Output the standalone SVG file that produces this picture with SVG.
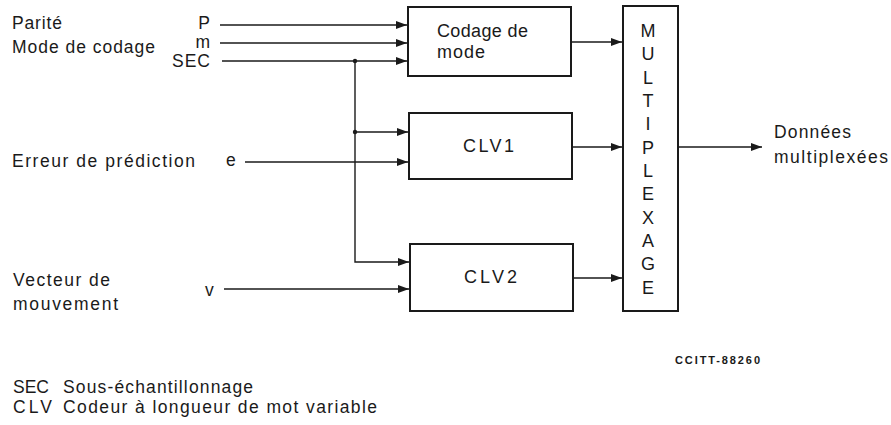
<svg xmlns="http://www.w3.org/2000/svg" width="891" height="425" viewBox="0 0 891 425">
<style>
text{font-family:"Liberation Sans",Arial,sans-serif;fill:#1a1a1a}
.lbl{font-size:17.5px}
.box{font-size:18px}
.mux{font-size:18px;text-anchor:middle}
.nd{fill:#fff;stroke:#1a1a1a;stroke-width:2}
.ln{fill:none;stroke:#1a1a1a;stroke-width:1.4}
.ref{font-size:11px;font-weight:bold}
</style>
<defs>
<marker id="ah" markerUnits="userSpaceOnUse" markerWidth="12" markerHeight="9" refX="11" refY="4" orient="auto">
<path d="M0,0 L11,4 L0,8 z" fill="#1a1a1a"/>
</marker>
</defs>
<rect width="891" height="425" fill="#fff"/>
<g id="inputs">
<text class="lbl" x="12" y="29" textLength="50">Parité</text>
<text class="lbl" x="12" y="53" textLength="143">Mode de codage</text>
<text class="lbl" x="210" y="29" text-anchor="end">P</text>
<text class="lbl" x="210" y="48" text-anchor="end">m</text>
<text class="lbl" x="210" y="67" text-anchor="end" textLength="38">SEC</text>
<text class="lbl" x="12" y="167" textLength="183">Erreur de prédiction</text>
<text class="lbl" x="226" y="166">e</text>
<text class="lbl" x="13" y="286" textLength="97">Vecteur de</text>
<text class="lbl" x="13" y="310" textLength="105">mouvement</text>
<text class="lbl" x="205" y="296">v</text>
</g>
<g id="codage">
<rect class="nd" x="408" y="7" width="163" height="69"/>
<text class="box" x="437" y="37" textLength="91">Codage de</text>
<text class="box" x="437" y="58" textLength="48">mode</text>
</g>
<g id="clv1">
<rect class="nd" x="409" y="113" width="163" height="66"/>
<text class="box" x="463" y="152" textLength="51">CLV1</text>
</g>
<g id="clv2">
<rect class="nd" x="410" y="244" width="163" height="67"/>
<text class="box" x="464" y="283" textLength="53">CLV2</text>
</g>
<g id="multiplexage">
<rect class="nd" x="623" y="6" width="55" height="305"/>
<text class="mux" x="648" y="37">M</text>
<text class="mux" x="648" y="60.3">U</text>
<text class="mux" x="648" y="83.6">L</text>
<text class="mux" x="648" y="107">T</text>
<text class="mux" x="648" y="130.3">I</text>
<text class="mux" x="648" y="153.6">P</text>
<text class="mux" x="648" y="177">L</text>
<text class="mux" x="648" y="200.3">E</text>
<text class="mux" x="648" y="223.6">X</text>
<text class="mux" x="648" y="247">A</text>
<text class="mux" x="648" y="270.3">G</text>
<text class="mux" x="648" y="293.6">E</text>
</g>
<g id="output">
<text class="lbl" x="774" y="138" textLength="77">Données</text>
<text class="lbl" x="774" y="163" textLength="114">multiplexées</text>
</g>
<g id="connectors">
<line class="ln" x1="220" y1="25" x2="407" y2="25" marker-end="url(#ah)"/>
<line class="ln" x1="220" y1="43" x2="407" y2="43" marker-end="url(#ah)"/>
<line class="ln" x1="222" y1="61" x2="407" y2="61" marker-end="url(#ah)"/>
<polyline class="ln" points="355,61 355,262 409,262" marker-end="url(#ah)"/>
<line class="ln" x1="355" y1="132" x2="408" y2="132" marker-end="url(#ah)"/>
<circle cx="355" cy="61" r="2.2" fill="#1a1a1a"/>
<circle cx="355" cy="132" r="2.2" fill="#1a1a1a"/>
<line class="ln" x1="245" y1="162" x2="408" y2="162" marker-end="url(#ah)"/>
<line class="ln" x1="224" y1="289" x2="409" y2="289" marker-end="url(#ah)"/>
<line class="ln" x1="571" y1="42" x2="622" y2="42" marker-end="url(#ah)"/>
<line class="ln" x1="572" y1="147" x2="622" y2="147" marker-end="url(#ah)"/>
<line class="ln" x1="573" y1="278" x2="622" y2="278" marker-end="url(#ah)"/>
<line class="ln" x1="678" y1="147" x2="762" y2="147" marker-end="url(#ah)"/>
</g>
<g id="legend">
<text class="ref" x="675" y="364" textLength="85">CCITT-88260</text>
<text class="lbl" x="13" y="393" textLength="36">SEC</text>
<text class="lbl" x="63" y="393" textLength="190">Sous-échantillonnage</text>
<text class="lbl" x="13" y="413" textLength="39">CLV</text>
<text class="lbl" x="63" y="413" textLength="314">Codeur à longueur de mot variable</text>
</g>
</svg>
